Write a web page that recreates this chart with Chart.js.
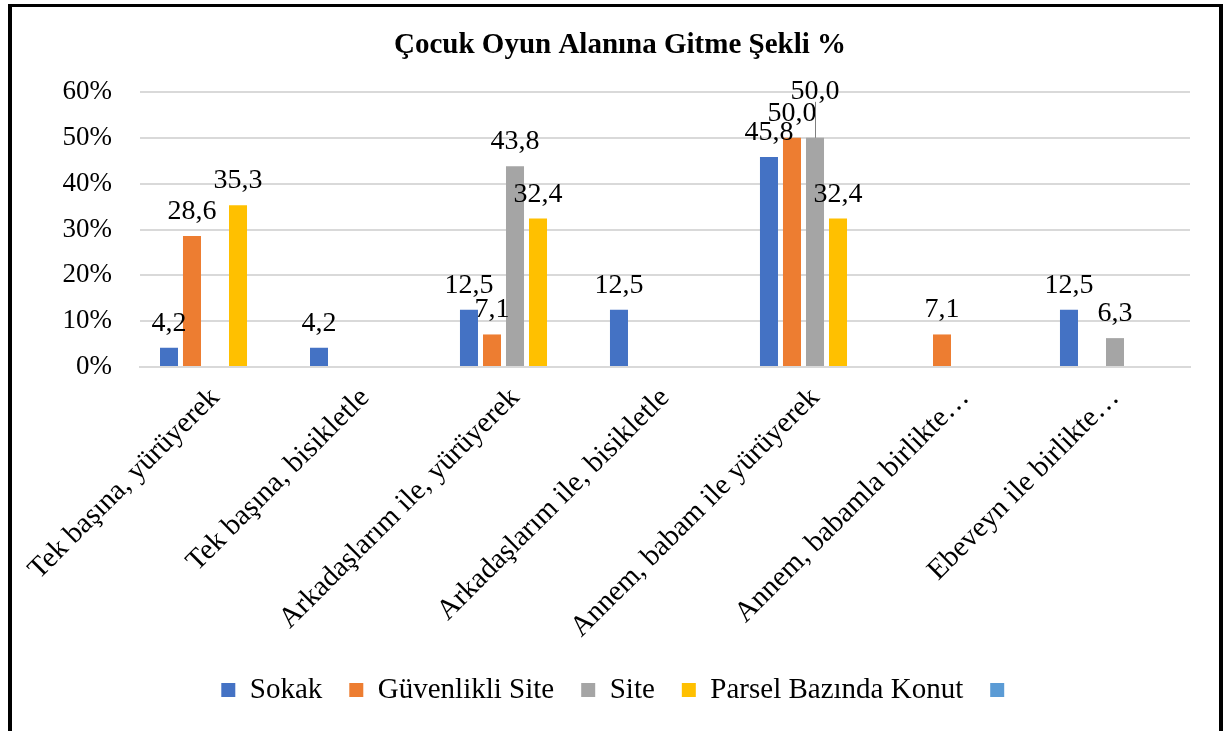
<!DOCTYPE html>
<html>
<head>
<meta charset="utf-8">
<script src="https://cdn.jsdelivr.net/npm/chart.js@4/dist/chart.umd.min.js"></script>
<style>
  html, body { margin: 0; padding: 0; background: #fff; }
  #wrap { position: relative; width: 1226px; height: 731px; }
  #frame { position: absolute; left: 8px; top: 4px; width: 1215px; height: 727px;
           box-sizing: border-box; border: 4px solid #000; border-top-width: 3px; border-bottom: none;
           pointer-events: none; }
</style>
</head>
<body>
<div id="wrap">
  <canvas id="c"></canvas>
  <div id="frame"></div>
</div>
<script>
const titleText = 'Çocuk Oyun Alanına Gitme Şekli %';
const categories = [
  'Tek başına, yürüyerek',
  'Tek başına, bisikletle',
  'Arkadaşlarım ile, yürüyerek',
  'Arkadaşlarım ile, bisikletle',
  'Annem, babam ile yürüyerek',
  'Annem, babamla birlikte…',
  'Ebeveyn ile birlikte…'
];
const seriesNames = ['Sokak', 'Güvenlikli Site', 'Site', 'Parsel Bazında Konut', ''];
const sokak      = [4.2, 4.2, 12.5, 12.5, 45.8, 0, 12.5];
const guvenlikli = [28.6, 0, 7.1, 0, 50.0, 7.1, 0];
const site       = [0, 0, 43.8, 0, 50.0, 0, 6.3];
const parsel     = [35.3, 0, 32.4, 0, 32.4, 0, 0];
const bos        = [0, 0, 0, 0, 0, 0, 0];
const yTicks = [0, 10, 20, 30, 40, 50, 60];

const colors = ['#4472C4', '#ED7D31', '#A5A5A5', '#FFC000', '#5B9BD5'];
const FONT = "'Liberation Serif', 'Times New Roman', serif";

const valueLabels = {
  id: 'valueLabels',
  afterDatasetsDraw(chart, args, opts) {
    const ctx = chart.ctx;
    ctx.save();
    ctx.font = opts.size + 'px ' + FONT;
    ctx.fillStyle = '#000';
    ctx.textAlign = 'center';
    ctx.textBaseline = 'alphabetic';
    chart.data.datasets.forEach((ds, di) => {
      const meta = chart.getDatasetMeta(di);
      if (meta.hidden) return;
      meta.data.forEach((bar, i) => {
        const v = ds.data[i];
        if (!v) return;
        const shift = (opts.shifts.find(s => s.d === di && s.i === i) || {dy: 0}).dy;
        const x = bar.x;
        const base = bar.y - opts.gap + shift;
        if (shift) {
          ctx.strokeStyle = '#808080';
          ctx.lineWidth = 1;
          ctx.beginPath();
          ctx.moveTo(x + 0.5, base + 3);
          ctx.lineTo(x + 0.5, bar.y);
          ctx.stroke();
        }
        ctx.fillText(v.toFixed(1).replace('.', ','), x, base);
      });
    });
    ctx.restore();
  }
};

const datasets = [sokak, guvenlikli, site, parsel, bos].map((d, k) => ({
  label: seriesNames[k],
  data: d,
  backgroundColor: colors[k],
  borderWidth: 0,
  categoryPercentage: 0.767,
  barPercentage: 0.783
}));

new Chart(document.getElementById('c'), {
  type: 'bar',
  data: { labels: categories, datasets },
  plugins: [valueLabels],
  options: {
    responsive: true,
    maintainAspectRatio: false,
    animation: false,
    layout: { padding: { left: 50, right: 36, top: 28, bottom: 16.5 } },
    plugins: {
      title: {
        display: true, text: titleText, color: '#000',
        font: { family: FONT, size: 29, weight: 'bold' },
        padding: { top: 0, bottom: 29.2 }
      },
      legend: {
        position: 'bottom',
        labels: {
          color: '#000', boxWidth: 14, boxHeight: 14, padding: 27,
          font: { family: FONT, size: 29 }
        }
      },
      tooltip: { enabled: false },
      valueLabels: { size: 28, gap: 17, shifts: [{ d: 2, i: 4, dy: -22 }] }
    },
    scales: {
      x: {
        grid: { display: false },
        border: { display: true, color: '#d9d9d9', width: 2 },
        ticks: { color: '#000', maxRotation: 45, minRotation: 45, autoSkip: false,
                 padding: 6, font: { family: FONT, size: 29 } },
        afterFit(s) { s.height = 281.5; }
      },
      y: {
        min: 0, max: 60,
        afterBuildTicks(s) { s.ticks = yTicks.map(v => ({ value: v })); },
        grid: { color: '#d9d9d9', lineWidth: 2, drawTicks: false },
        border: { display: false },
        ticks: { color: '#000', padding: 28, font: { family: FONT, size: 27 },
                 callback: v => v + '%' },
        afterFit(s) { s.width = 90; }
      }
    }
  }
});
</script>
</body>
</html>
